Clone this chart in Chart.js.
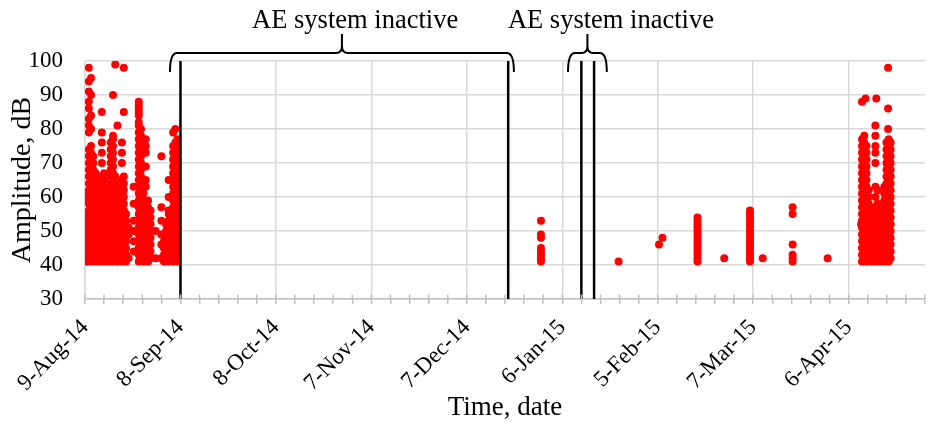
<!DOCTYPE html>
<html>
<head>
<meta charset="utf-8">
<script src="https://cdn.jsdelivr.net/npm/chart.js@4.4.1/dist/chart.umd.min.js"></script>
<style>
  html, body { margin: 0; padding: 0; background: #ffffff; }
  #wrap { position: relative; width: 932px; height: 433px; }
</style>
</head>
<body>
<div id="wrap"><canvas id="c"></canvas></div>
<script>
// ---- Data (x = days since 9-Aug-14, y = amplitude in dB) ----
const xTickLabels = ['9-Aug-14','8-Sep-14','8-Oct-14','7-Nov-14','7-Dec-14','6-Jan-15','5-Feb-15','7-Mar-15','6-Apr-15'];
const yTicks = [30,40,50,60,70,80,90,100];

// Aug-Sep 2014 hits
const augSepDays = [0.6, 1.2, 1.9, 2.6, 3.3, 4.0, 4.7, 5.3, 6.0, 6.7, 7.4, 8.1, 8.8, 9.5, 10.2, 10.9, 11.6, 12.2, 12.9, 13.7, 15.3,
                    16.9, 17.6, 18.4, 19.1, 19.8, 20.6, 22.2, 24.0, 24.8, 25.5, 26.3, 27.0, 27.7, 28.4, 29.1];
const augSepAmps = [
  [41,43,45,47,49,51,53,55,59,61],
  [42,44,46,48,50,52,54,56,58,60,62,64,66,68,70,72,74,79,81,83,86,88,91,94,98],
  [41,43,45,47,49,51,53,55,57,59,61,63,65,67,69,71,73,75,80,84,90,95],
  [42,44,46,48,50,52,54,56,58,60,62,64,66,68,70,72],
  [41,43,45,47,49,51,53,55,57,59,61,63,65,67],
  [42,44,46,48,50,52,54,56],
  [41,43,45,47,49,51,53,55,57,59],
  [42,44,46,48,50,52,54,56,58,60,62,64,66,70,73,76,79,85],
  [41,43,45,47,49,51,53,55,57,59,61,63,65,67],
  [42,44,46,48,50,52,54,56,58,60],
  [41,43,45,47,49,51,53,55],
  [42,44,46,48,50,52,54,56,58,60,62,64,66,68,70,72,74,76],
  [41,43,45,47,49,51,53,55,57,59,61,63,65,67,69,71,73,75,77,78,90],
  [42,44,46,48,50,52,54,56,58,60,62,64,66,99],
  [41,43,45,47,49,51,53,55,57,59,81],
  [42,44,46,48,50,52,54,56,58,60,62],
  [41,43,45,47,49,51,53,55,57,59,61,63,65,70,73,76],
  [42,44,46,48,50,52,54,56,58,60,62,64,66,85,98],
  [41,43,45,47,49,51,53,55],
  [42,49,51],
  [44,47,50,53,58,63],
  [41,43,45,47,49,51,53,55,57,59,61,63,65,67,69,71,73,75,77,79,81,82,84,85,86,87,88],
  [42,44,46,48,50,52,54,56,58,60,62,64,66,68,70,72,74,76,78,80],
  [41,43,45,47,49,51,53,55,57,59,61],
  [42,44,46,48,50,52,54,56,58,63,65,69,73,75,77],
  [41,43,45,47,49,51,53,55,57,59],
  [42,44,46,48,50,52,54,56],
  [42,50],
  [42,46,49,53,57,72],
  [41,43,45,47,49],
  [42,44,46,48,50,52],
  [41,43,45,47,49,51,53,55,56,60,65],
  [42,44,46,48,50,52],
  [41,43,45,47,49,51,53,55,57,59,61,63,65,67,69,71,73,75,79],
  [42,44,46,48,50,52,54,56,58,60,62,64,66,68,70,72,74,76,80],
  [41,43,45,47,49,51,53,55,57,59,61,63,65,67,69,71,73,75,77]
];

// Jan-Mar 2015 hits
const janMarDays = [143.3, 167.7, 180.4, 181.5, 192.5, 200.9, 209.0, 213.0, 222.4, 233.4];
const janMarAmps = [
  [41,42,43,44,45,48,49,53],
  [41],
  [46],
  [48],
  [41,42,43,44,45,46,47,48,49,50,51,52,53,54],
  [42],
  [41,42,43,44,45,46,47,48,49,50,51,52,53,54,55,56],
  [42],
  [41,42,43,46,55,57],
  [42]
];

// April 2015 hits
const aprDays = [243.9, 244.2, 244.9, 245.3, 245.6, 246.3, 247.0, 247.7, 248.4, 248.7, 249.1, 249.8, 250.5, 251.2, 251.9, 252.4, 252.6, 253.2];
const aprAmps = [
  [52],
  [41,43,45,47,49,51,53,55,57,59,61,63,65,67,69,71,73,75,77,88],
  [42,44,46,48,50,52,54,56,58,60,62,64,66,68,70,72,74,76,78],
  [89],
  [41,43,45,47,49,51,53,55,57,59,61,63,65,67,69,71,73,75],
  [42,44,46,48,50,52,54,56,58,60,62],
  [41,43,45,47,49,51,53,55,57],
  [42,44,46,48,50,52,54,56],
  [41,43,45,47,49,51,53,55,57,60,63,70,73,75,78,81],
  [89],
  [42,44,46,48,50,52,54,56,58,62],
  [41,43,45,47,49,51,53],
  [42,44,46,48,50,52,54,56],
  [41,43,45,47,49,51,53,55,57,59,61,63],
  [42,44,46,48,50,52,54,56,58,60,62,64,66,68,70,72,74,76],
  [80,86,98],
  [41,43,45,47,49,51,53,55,57,59,61,63,65,67,69,71,73,75,77],
  [42,44,46,48,50,52,54,56,58,60,62,64,66,68,70,72,74,76]
];

// Vertical markers bounding inactive periods (days)
const inactiveMarkers = [30, 133, 156, 160];
// Brace spans (days) and labels
const braceSpans = [[26.7, 134.8], [151.8, 164.0]];
const braceLabels = ['AE system inactive', 'AE system inactive'];
const braceLabelCenters = [84.9, 165.3];

// ---- Build datasets ----
function toPoints(days, amps) {
  const pts = [];
  days.forEach((d, i) => amps[i].forEach(a => pts.push({x: d, y: a})));
  return pts;
}
const hitPoints = [].concat(
  toPoints(augSepDays, augSepAmps),
  toPoints(janMarDays, janMarAmps),
  toPoints(aprDays, aprAmps)
);

const SERIF = '"Liberation Serif", "Times New Roman", serif';
Chart.defaults.font.family = SERIF;
Chart.defaults.color = '#000000';

const markerSets = inactiveMarkers.map(d => ({
  type: 'line',
  data: [{x: d, y: 30}, {x: d, y: 100}],
  borderColor: '#000000',
  borderWidth: 2.5,
  pointRadius: 0,
  fill: false,
  order: 0
}));

const annotate = {
  id: 'annotate',
  afterDraw(chart) {
    const ctx = chart.ctx;
    const xs = chart.scales.x;
    const area = chart.chartArea;
    // upward halves of the crossing tick marks
    ctx.save();
    ctx.strokeStyle = '#bfbfbf';
    ctx.lineWidth = 1.5;
    xs.ticks.forEach(t => {
      const px = xs.getPixelForValue(t.value);
      ctx.beginPath();
      ctx.moveTo(px, area.bottom - 4.5);
      ctx.lineTo(px, area.bottom);
      ctx.stroke();
    });
    ctx.restore();

    // braces
    ctx.save();
    ctx.strokeStyle = '#000000';
    ctx.lineWidth = 2;
    const h = area.top - 8, e = area.top + 11, tip = area.top - 27;
    braceSpans.forEach(([a, b]) => {
      const xL = xs.getPixelForValue(a), xR = xs.getPixelForValue(b);
      const xc = (xL + xR) / 2;
      ctx.beginPath();
      ctx.moveTo(xL, e);
      ctx.quadraticCurveTo(xL, h, xL + 7, h);
      ctx.lineTo(xc - 6, h);
      ctx.quadraticCurveTo(xc, h, xc, h - 7);
      ctx.lineTo(xc, tip);
      ctx.moveTo(xc, h - 7);
      ctx.quadraticCurveTo(xc, h, xc + 6, h);
      ctx.lineTo(xR - 7, h);
      ctx.quadraticCurveTo(xR, h, xR, e);
      ctx.stroke();
    });
    ctx.restore();

    // labels
    ctx.save();
    ctx.fillStyle = '#000000';
    ctx.font = '26.5px ' + SERIF;
    ctx.textAlign = 'center';
    ctx.textBaseline = 'alphabetic';
    braceLabels.forEach((txt, i) => {
      ctx.fillText(txt, xs.getPixelForValue(braceLabelCenters[i]), 28);
    });
    ctx.restore();
  }
};

new Chart(document.getElementById('c'), {
  type: 'scatter',
  data: {
    datasets: [
      ...markerSets,
      {
        label: 'Amplitude',
        data: hitPoints,
        backgroundColor: '#ff0000',
        borderColor: '#ff0000',
        borderWidth: 0,
        pointRadius: 4,
        pointHoverRadius: 4,
        order: 1
      }
    ]
  },
  options: {
    responsive: true,
    maintainAspectRatio: false,
    animation: false,
    devicePixelRatio: 1,
    layout: { padding: { top: 61, right: 7, bottom: 0, left: 0 } },
    plugins: { legend: { display: false }, tooltip: { enabled: false } },
    scales: {
      x: {
        type: 'linear',
        min: 0,
        max: 264,
        afterFit(s) { s.height = 134; s.paddingLeft = 0; s.paddingRight = 0; },
        ticks: {
          stepSize: 6,
          autoSkip: false,
          maxRotation: 45,
          minRotation: 45,
          padding: 10,
          font: { size: 23 },
          color: '#000000',
          callback: (v) => (v % 30 === 0 && xTickLabels[v / 30] !== undefined) ? xTickLabels[v / 30] : ''
        },
        grid: {
          color: (c) => (c.tick && c.tick.value % 30 === 0) ? '#d9d9d9' : 'rgba(0,0,0,0)',
          tickColor: '#bfbfbf',
          lineWidth: 1.5,
          tickLength: 5,
          drawTicks: true
        },
        border: { color: '#bfbfbf', width: 1.5 },
        title: { display: true, text: 'Time, date', font: { size: 27 }, color: '#000000', padding: { top: 0, bottom: 9 } }
      },
      y: {
        min: 30,
        max: 100,
        afterFit(s) { s.width = 85; },
        afterBuildTicks(s) { s.ticks = yTicks.map(v => ({ value: v })); },
        ticks: { padding: 22, font: { size: 23 }, color: '#000000' },
        grid: { color: '#d9d9d9', lineWidth: 1.5, drawTicks: false },
        border: { color: '#d9d9d9', width: 1.5 },
        title: { display: true, text: 'Amplitude, dB', font: { size: 28 }, color: '#000000', padding: { top: 6, bottom: 0 } }
      }
    }
  },
  plugins: [annotate]
});
</script>
</body>
</html>
